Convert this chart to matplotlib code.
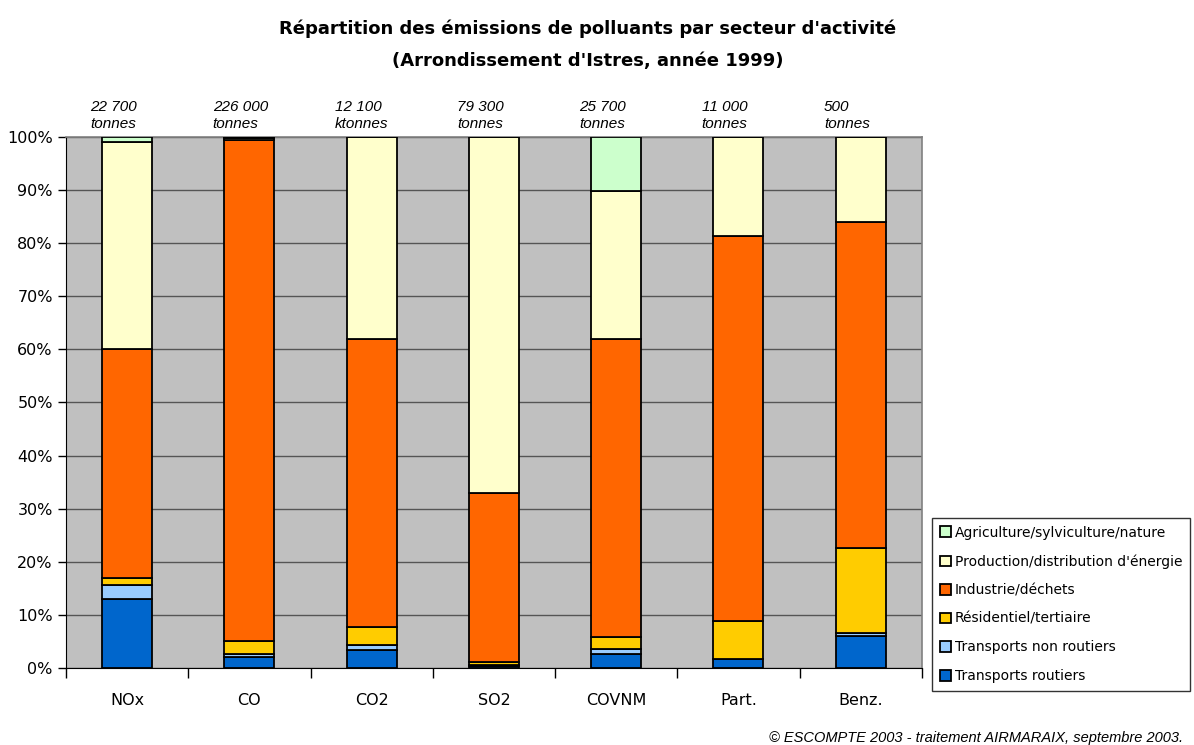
import matplotlib.pyplot as plt
import numpy as np

# Données (en % des émissions totales par polluant)
polluants = ["NOx", "CO", "CO2", "SO2", "COVNM", "Part.", "Benz."]
totaux = ["22 700\ntonnes", "226 000\ntonnes", "12 100\nktonnes", "79 300\ntonnes",
          "25 700\ntonnes", "11 000\ntonnes", "500\ntonnes"]

transports_routiers = [12.9, 2.1, 3.4, 0.4, 2.6, 1.7, 6.0]
transports_non_routiers = [2.7, 0.5, 1.0, 0.1, 1.0, 0.0, 0.5]
residentiel = [1.4, 2.5, 3.3, 0.6, 2.3, 7.2, 16.0]
industrie = [43.0, 94.3, 54.3, 31.9, 56.1, 72.4, 61.5]
production = [39.1, 0.4, 38.0, 67.0, 27.8, 18.7, 16.0]
agriculture = [0.9, 0.2, 0.0, 0.0, 10.2, 0.0, 0.0]

secteurs = ["Transports routiers", "Transports non routiers", "Résidentiel/tertiaire",
            "Industrie/déchets", "Production/distribution d'énergie",
            "Agriculture/sylviculture/nature"]
series = [transports_routiers, transports_non_routiers, residentiel,
          industrie, production, agriculture]
couleurs = ["#0066CC", "#99CCFF", "#FFCC00", "#FF6600", "#FFFFCC", "#CCFFCC"]

fig = plt.figure(figsize=(11.94, 7.45), dpi=100)
ax = fig.add_axes([0.0553, 0.1034, 0.7167, 0.7128])
ax.set_facecolor("#C0C0C0")

x = np.arange(len(polluants))
bas = np.zeros(len(polluants))
for nom, vals, c in zip(secteurs, series, couleurs):
    ax.bar(x, vals, bottom=bas, width=0.41, color=c, edgecolor="black",
           linewidth=1.3, label=nom, zorder=3)
    bas += np.array(vals)

# Grille et axes
ax.set_xlim(-0.5, len(polluants) - 0.5)
ax.set_ylim(0, 100)
ax.set_yticks(np.arange(0, 101, 10))
ax.set_yticklabels([f"{v}%" for v in range(0, 101, 10)], fontsize=11.5)
ax.yaxis.grid(True, color="#555555", linewidth=1, zorder=1)
ax.set_xticks(x)
ax.set_xticklabels(polluants, fontsize=11.5)
ax.set_xticks(np.arange(-0.5, len(polluants), 1), minor=True)
ax.tick_params(axis="x", which="major", length=0, pad=18)
ax.tick_params(axis="x", which="minor", length=7, width=1)
ax.tick_params(axis="y", length=6, width=1)
for s in ["top", "right"]:
    ax.spines[s].set_color("#808080")
    ax.spines[s].set_linewidth(1.2)
ax.spines["left"].set_color("black")
ax.spines["bottom"].set_color("black")

# Totaux au-dessus des barres
for i, t in enumerate(totaux):
    ax.text(i - 0.3, 101.2, t, ha="left", va="bottom", fontsize=11,
            style="italic", family="Liberation Sans", linespacing=1.2)

# Titre
fig.text(0.4925, 0.962, "Répartition des émissions de polluants par secteur d'activité",
         ha="center", va="center", fontsize=13, fontweight="bold")
fig.text(0.4925, 0.918, "(Arrondissement d'Istres, année 1999)",
         ha="center", va="center", fontsize=13, fontweight="bold")

# Légende
h, l = ax.get_legend_handles_labels()
leg = fig.legend(h[::-1], l[::-1], loc="upper left", bbox_to_anchor=(0.7806, 0.3047),
                 fontsize=10, frameon=True, fancybox=False, edgecolor="black",
                 handlelength=0.8, handleheight=0.8, handletextpad=0.3,
                 labelspacing=1.05, borderpad=0.55, borderaxespad=0)
leg.get_frame().set_linewidth(1)

fig.text(0.991, 0.0, "© ESCOMPTE 2003 - traitement AIRMARAIX, septembre 2003.",
         ha="right", va="bottom", fontsize=10.5, style="italic", family="Liberation Sans")

fig.savefig("out.png", dpi=100)
